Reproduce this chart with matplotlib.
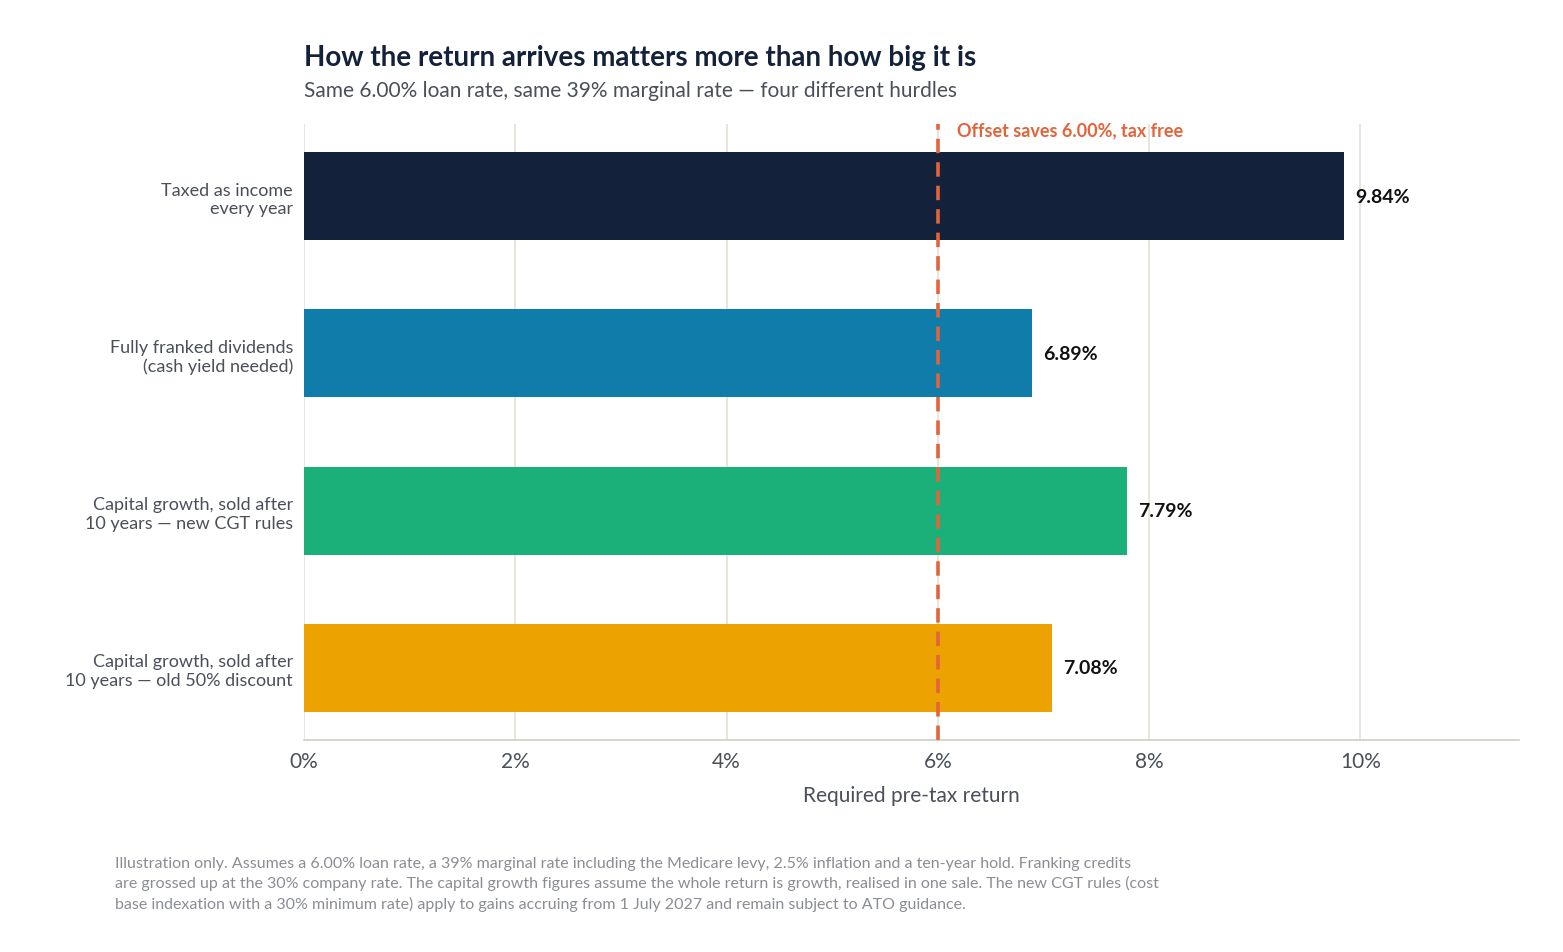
import matplotlib.pyplot as plt

plt.rcParams['font.family'] = ['Lato', 'DejaVu Sans']

# data
categories = [
    "Taxed as income\nevery year",
    "Fully franked dividends\n(cash yield needed)",
    "Capital growth, sold after\n10 years \u2014 new CGT rules",
    "Capital growth, sold after\n10 years \u2014 old 50% discount",
]
values = [9.84, 6.89, 7.79, 7.08]
colors = ["#13223a", "#0f7caa", "#1bb07a", "#eca200"]
offset_rate = 6.0
xticks = [0, 2, 4, 6, 8, 10]

fig = plt.figure(figsize=(15.63, 9.53), dpi=100)
ax = fig.add_axes([0.1945, 0.2225, 0.7773, 0.6463])

ypos = list(range(len(categories)))
ax.barh(ypos, values, height=0.56, color=colors, zorder=2)
for y, v in zip(ypos, values):
    ax.text(v + 0.11, y, f"{v:.2f}%", va="center", ha="left",
            fontsize=14, fontweight="bold", color="#111111")

ax.axvline(offset_rate, color="#e2643a", linestyle=(0, (4, 2.5)), linewidth=2.6, zorder=3)
ax.text(offset_rate + 0.18, -0.42, "Offset saves 6.00%, tax free", color="#e2643a",
        fontsize=13, fontweight="bold", ha="left", va="center")

ax.set_xlim(0, 11.5)
ax.set_ylim(3.459, -0.459)
ax.set_xticks(xticks)
ax.set_xticklabels([f"{t}%" for t in xticks], fontsize=15, color="#4a4f5a")
ax.set_yticks(ypos)
ax.set_yticklabels(categories, fontsize=13, color="#4a4f5a")
ax.tick_params(axis="both", length=0, pad=8)
ax.grid(axis="x", color="#e3e1d6", linewidth=1.2, zorder=0)
for s in ["top", "right", "left"]:
    ax.spines[s].set_visible(False)
ax.spines["bottom"].set_color("#cfcdc2")
ax.spines["bottom"].set_linewidth(1.2)
ax.set_xlabel("Required pre-tax return", fontsize=15, color="#4a4f5a", labelpad=10)

fig.text(0.1945, 0.939, "How the return arrives matters more than how big it is",
         fontsize=20, fontweight="bold", color="#13223a", va="center")
fig.text(0.1945, 0.904, "Same 6.00% loan rate, same 39% marginal rate \u2014 four different hurdles",
         fontsize=15, color="#4a4f5a", va="center")
fig.text(0.0736, 0.072,
         "Illustration only. Assumes a 6.00% loan rate, a 39% marginal rate including the Medicare levy, 2.5% inflation and a ten-year hold. Franking credits\n"
         "are grossed up at the 30% company rate. The capital growth figures assume the whole return is growth, realised in one sale. The new CGT rules (cost\n"
         "base indexation with a 30% minimum rate) apply to gains accruing from 1 July 2027 and remain subject to ATO guidance.",
         fontsize=11.5, color="#8a8d94", va="center", linespacing=1.45)

fig.savefig("out.png", dpi=100)
